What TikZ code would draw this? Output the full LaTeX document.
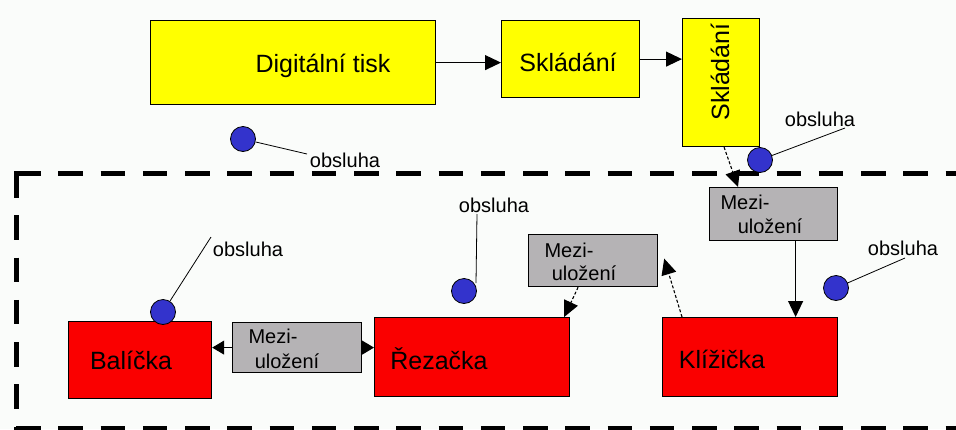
\documentclass[tikz,border=0pt]{standalone}
\usepackage{fontspec}
\setmainfont{Liberation Sans}
\usetikzlibrary{arrows.meta}
\definecolor{ylw}{RGB}{255,255,0}
\definecolor{rd}{RGB}{250,0,0}
\definecolor{gr}{RGB}{181,179,181}
\definecolor{bl}{RGB}{51,51,204}
\definecolor{bg}{RGB}{250,252,250}
\begin{document}
\begin{tikzpicture}[x=1pt,y=-1pt,
 box/.style={draw=black, line width=1.2pt, anchor=north west, inner sep=0pt},
 ybox/.style={box, fill=ylw},
 rbox/.style={box, fill=rd},
 gbox/.style={box, fill=gr},
 big/.style={font=\fontsize{25}{30}\selectfont, inner sep=0pt, anchor=base},
 small/.style={font=\fontsize{20}{22}\selectfont, inner sep=0pt},
 op/.style={circle, draw=black, fill=bl, minimum size=25pt, inner sep=0pt, line width=0.8pt},
 conn/.style={line width=1.1pt, -{Triangle[length=16pt,width=15pt]}},
 sconn/.style={line width=1.1pt, -{Triangle[length=12pt,width=14pt]}},
 dconn/.style={conn, densely dashed},
 lead/.style={line width=0.8pt},
 frame/.style={line width=5pt, dash pattern=on 24.5pt off 17.75pt}
]
\fill[bg] (0,0) rectangle (956,429);
\useasboundingbox (0,0) rectangle (956,429);

% dashed frame
\draw[frame] (16,173) -- (970,173);
\draw[frame] (16,173) -- (16,440);
\draw[frame] (16,428) -- (970,428);
\fill (13.5,170.5) rectangle (18.5,175.5);

% yellow boxes
\node[ybox, minimum width=285pt, minimum height=84pt] (dt) at (150,20) {};
\node[big] (dtt) at (323,72) {Digitální tisk};
\node[ybox, minimum width=138pt, minimum height=77pt] (sk) at (501,20) {};
\node[big] (skt) at (568,71) {Skládání};
\node[ybox, minimum width=77pt, minimum height=128pt] (vsk) at (682,18) {};
\node[font=\fontsize{25}{30}\selectfont, inner sep=0pt, rotate=90] (vskt) at (720,72) {Skládání};

% red boxes
\node[rbox, minimum width=143pt, minimum height=77pt] (bal) at (68,321) {};
\node[big] (balt) at (131,369) {Balíčka};
\node[rbox, minimum width=195pt, minimum height=79pt] (rez) at (374,317) {};
\node[big] (rezt) at (439,369) {Řezačka};
\node[rbox, minimum width=175pt, minimum height=79pt] (kl) at (662,317) {};
\node[big] (klt) at (722,368) {Klížička};

% gray boxes
\node[gbox, minimum width=129pt, minimum height=50pt] (m1) at (232,322) {};
\node[small] (m1a) at (273,336) {Mezi-};
\node[small] (m1b) at (287,361) {uložení};
\node[gbox, minimum width=129pt, minimum height=52pt] (m2) at (528,234) {};
\node[small] (m2a) at (569,250) {Mezi-};
\node[small] (m2b) at (584,273) {uložení};
\node[gbox, minimum width=128pt, minimum height=53pt] (m3) at (709,187) {};
\node[small] (m3a) at (745,202) {Mezi-};
\node[small] (m3b) at (770,226) {uložení};

% connectors
\draw[conn] (dt.east) -- (dt.east -| sk.west);
\draw[conn] (sk.east) -- (sk.east -| vsk.west);
\draw[conn, densely dashed] ([xshift=3pt]vsk.south) -- ([xshift=29pt]m3.north west);
\draw[conn] ([xshift=22pt]m3.south) -- ([xshift=22pt]m3.south |- kl.north);
\draw[dconn] ([xshift=-15pt]m2.south) -- ([xshift=-6pt]rez.north east);
\draw[dconn] ([xshift=20pt]kl.north west) -- ([xshift=6pt,yshift=2pt]m2.east);
\draw[sconn] (m1.west) -- (m1.west -| bal.east);
\draw[sconn] (m1.east) -- (m1.east -| rez.west);

% operators
\node[op] (o1) at (243,139) {};
\coordinate (l1) at (307,154);
\node[small] (o1t) at (345,160) {obsluha};
\draw[lead] (o1) -- (l1);

\node[op] (o2) at (760,160) {};
\coordinate (l2) at (845,128);
\node[small] (o2t) at (820,119) {obsluha};
\draw[lead] (o2) -- (l2);

\node[op] (o3) at (464,291) {};
\coordinate (l3a) at (476,283);
\coordinate (l3) at (477,214);
\node[small] (o3t) at (494,205) {obsluha};
\draw[lead] (l3a) -- (l3);

\node[op] (o4) at (163,312) {};
\coordinate (l4) at (211,237);
\node[small] (o4t) at (248,249) {obsluha};
\draw[lead] (o4) -- (l4);

\node[op] (o5) at (836,288) {};
\coordinate (l5) at (905,258);
\node[small] (o5t) at (903,248) {obsluha};
\draw[lead] (o5) -- (l5);
\end{tikzpicture}
\end{document}
